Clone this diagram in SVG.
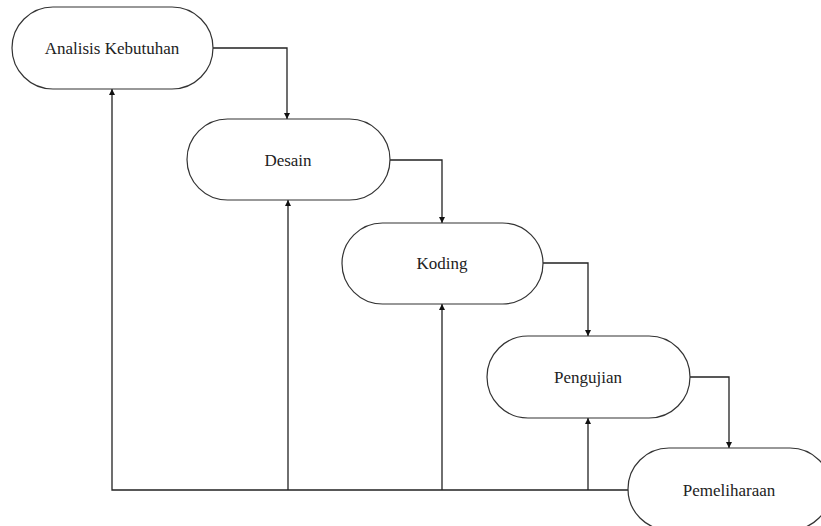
<svg xmlns="http://www.w3.org/2000/svg" width="821" height="526" viewBox="0 0 821 526">
<style>
.node rect{fill:#fff;stroke:#333;stroke-width:1.2}
.node text{font-family:"Liberation Serif","Times New Roman",serif;font-size:17px;fill:#222;text-anchor:middle}
.conn path{fill:none;stroke:#222;stroke-width:1.3}
</style>
<defs>
<marker id="ah" viewBox="0 0 10 10" refX="10" refY="5" markerWidth="6" markerHeight="6" markerUnits="userSpaceOnUse" orient="auto">
<path d="M0,0 L10,5 L0,10 z" fill="#111"/>
</marker>
</defs>
<rect width="821" height="526" fill="#fff"/>
<g class="conn">
<path d="M213,48 H287 V119" marker-end="url(#ah)"/>
<path d="M390,160 H442 V223" marker-end="url(#ah)"/>
<path d="M543,263 H588 V336" marker-end="url(#ah)"/>
<path d="M690,377 H729 V448" marker-end="url(#ah)"/>
<path d="M629,490 H112 V89" marker-end="url(#ah)"/>
<path d="M288,490 V200" marker-end="url(#ah)"/>
<path d="M442,490 V304" marker-end="url(#ah)"/>
<path d="M588,490 V418" marker-end="url(#ah)"/>
</g>
<g id="analisis" class="node">
<rect x="12" y="7" width="201" height="82" rx="41" ry="41"/>
<text x="112" y="54">Analisis Kebutuhan</text>
</g>
<g id="desain" class="node">
<rect x="187" y="119" width="203" height="81" rx="40.5" ry="40.5"/>
<text x="288" y="166">Desain</text>
</g>
<g id="koding" class="node">
<rect x="342" y="223" width="201" height="81" rx="40.5" ry="40.5"/>
<text x="442" y="269">Koding</text>
</g>
<g id="pengujian" class="node">
<rect x="487" y="336" width="203" height="82" rx="41" ry="41"/>
<text x="588" y="383">Pengujian</text>
</g>
<g id="pemeliharaan" class="node">
<rect x="628" y="448" width="203" height="82" rx="41" ry="41"/>
<text x="729" y="496">Pemeliharaan</text>
</g>
</svg>
